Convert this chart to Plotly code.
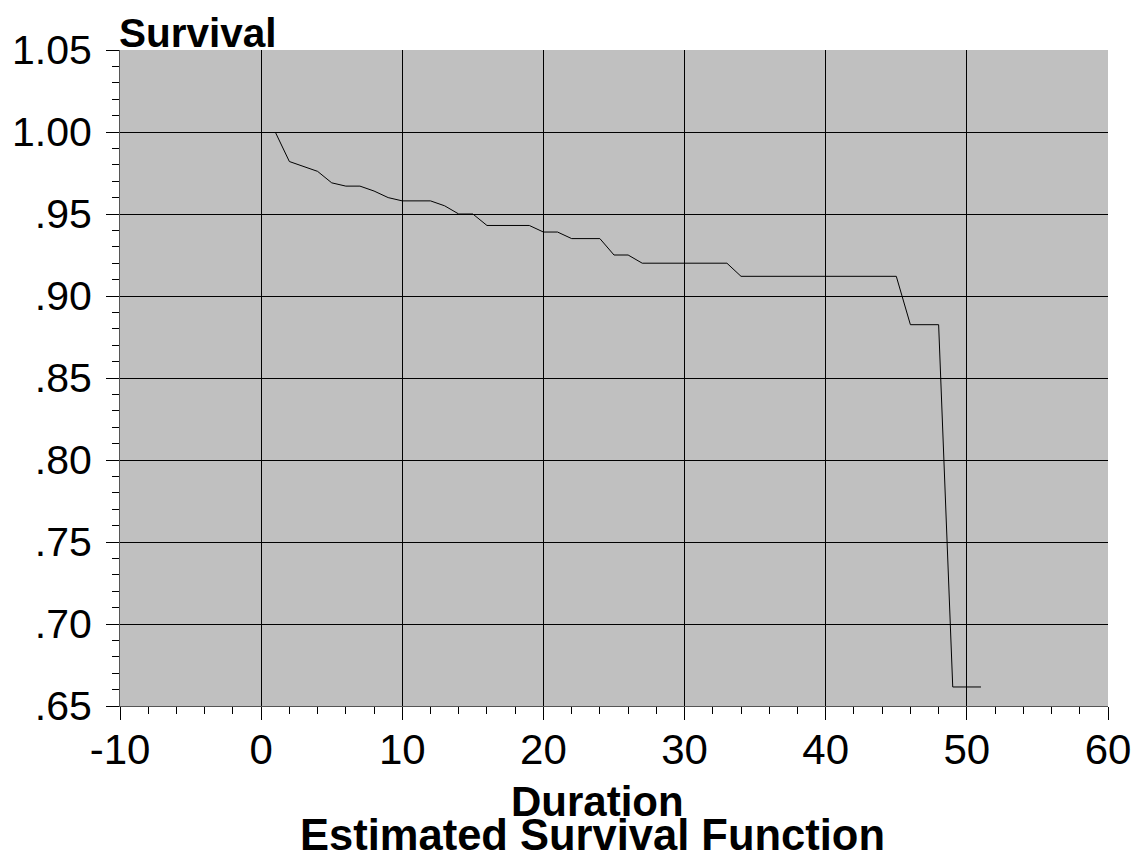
import plotly.graph_objects as go

duration = [1, 2, 4, 5, 6, 7, 8, 9, 10, 12, 13, 14, 15, 16, 19, 20, 21, 22, 24, 25, 26, 27, 33, 34, 45, 46, 48, 49, 51]
survival = [1.000, 0.982, 0.976, 0.969, 0.967, 0.967, 0.964, 0.960, 0.958, 0.958, 0.955, 0.950, 0.950, 0.943,
            0.943, 0.939, 0.939, 0.935, 0.935, 0.925, 0.925, 0.920, 0.920, 0.912, 0.912, 0.8825, 0.8825, 0.6616, 0.6616]

x_ticks = [-10, 0, 10, 20, 30, 40, 50, 60]
y_ticks = [0.65, 0.70, 0.75, 0.80, 0.85, 0.90, 0.95, 1.00, 1.05]
y_labels = [".65", ".70", ".75", ".80", ".85", ".90", ".95", "1.00", "1.05"]

FONT = "Liberation Sans, Arial, sans-serif"

fig = go.Figure()
fig.add_trace(go.Scatter(x=duration, y=survival, mode="lines",
                         line=dict(color="black", width=1), showlegend=False))

fig.update_layout(
    width=1134, height=851,
    margin=dict(l=112, r=34, t=42, b=153),
    paper_bgcolor="white", plot_bgcolor="#c0c0c0",
    font=dict(family=FONT, color="black"),
    xaxis=dict(range=[-10, 60], tickvals=x_ticks, ticktext=[str(v) for v in x_ticks],
               automargin=False,
               showgrid=True, gridcolor="black", gridwidth=1, zeroline=False,
               showline=True, linecolor="#555555", linewidth=1,
               ticks="outside", ticklen=13, tickcolor="black", tickwidth=1,
               tickfont=dict(size=42, family=FONT), ticklabelstandoff=-6,
               minor=dict(dtick=2, ticks="outside", ticklen=7, tickcolor="black", showgrid=False)),
    yaxis=dict(range=[0.65, 1.05], tickvals=y_ticks, ticktext=y_labels,
               automargin=False,
               showgrid=True, gridcolor="black", gridwidth=1, zeroline=False,
               showline=True, linecolor="#555555", linewidth=1,
               ticks="outside", ticklen=13, tickcolor="black", tickwidth=1,
               tickfont=dict(size=41, family=FONT), ticklabelstandoff=6,
               minor=dict(dtick=0.01, ticks="outside", ticklen=7, tickcolor="black", showgrid=False)),
    annotations=[
        dict(text="<b>Survival</b>", xref="paper", yref="paper", x=0, y=1, xanchor="left", yanchor="bottom",
             showarrow=False, font=dict(size=40.5, family=FONT), yshift=-8, xshift=-3),
        dict(text="<b>Duration</b>", xref="paper", yref="paper", x=(597 - 120) / 988, y=0,
             xanchor="center", yanchor="top", showarrow=False, font=dict(size=42, family=FONT), yshift=-70),
        dict(text="<b>Estimated Survival Function</b>", xref="paper", yref="paper", x=(592 - 120) / 988, y=0,
             xanchor="center", yanchor="top", showarrow=False, font=dict(size=43.5, family=FONT), yshift=-103),
    ],
)

fig.write_html("out.html")
